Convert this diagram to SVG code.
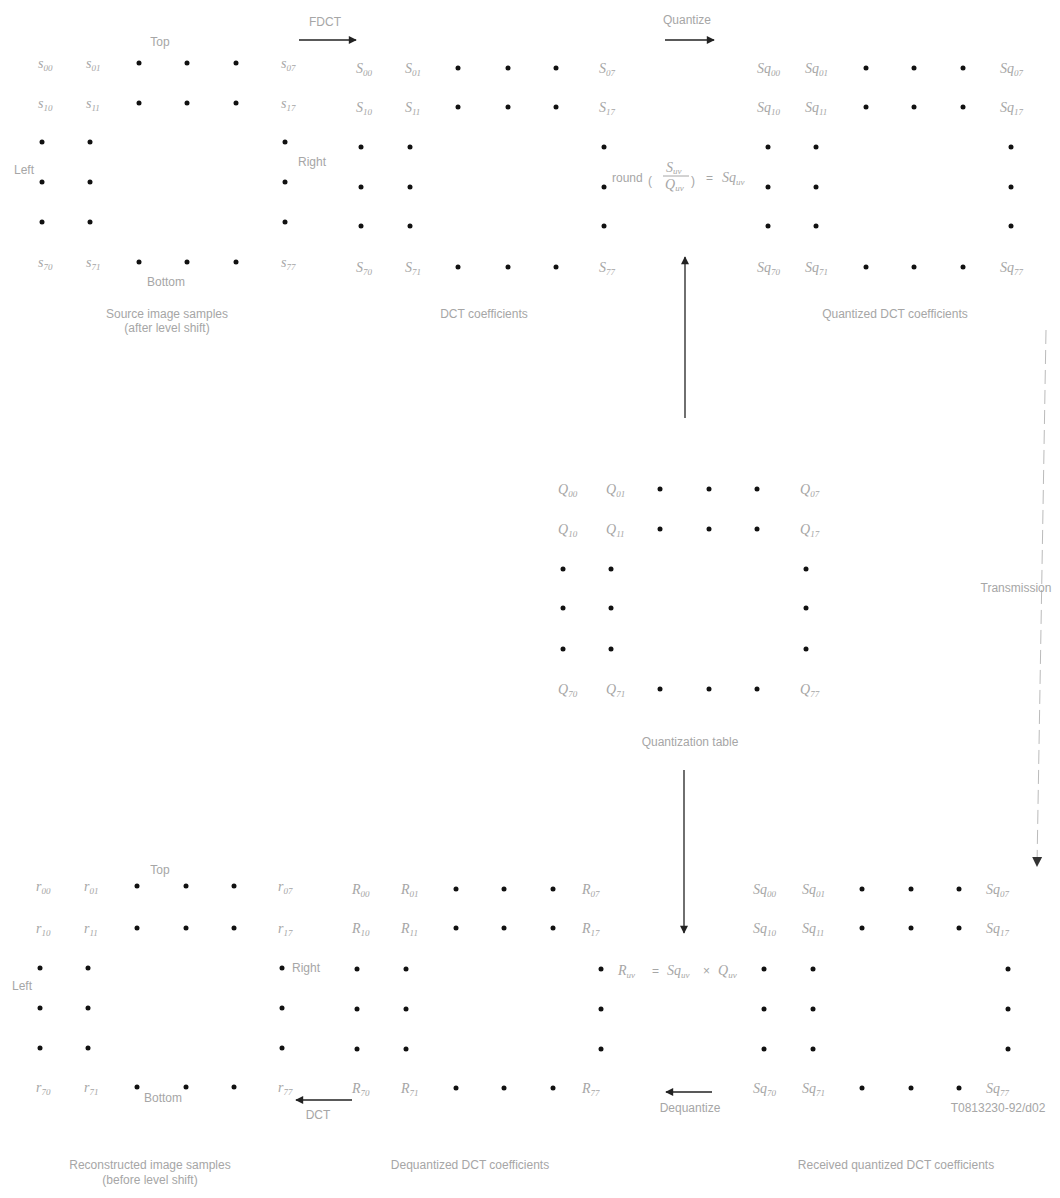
<svg xmlns="http://www.w3.org/2000/svg" width="1060" height="1198" viewBox="0 0 1060 1198">
<style>
.lbl{font-family:"Liberation Serif",serif;font-style:italic;font-size:14px;fill:#a6a6a6}
.sub{font-size:9px}
.txt{font-family:"Liberation Sans",Arial,sans-serif;font-size:12px;fill:#a6a6a6}
.d{fill:#111}
.ln{stroke:#222;stroke-width:1.3;fill:none}
.fn{stroke:#bbb;stroke-width:1;fill:none}
</style>
<defs>
<marker id="ah" viewBox="0 0 10 10" refX="9" refY="5" markerWidth="10" markerHeight="8" orient="auto" markerUnits="userSpaceOnUse"><path d="M0,0 L10,5 L0,10 z" fill="#222"/></marker>
<marker id="ahg" viewBox="0 0 10 10" refX="9" refY="5" markerWidth="10" markerHeight="12" orient="auto" markerUnits="userSpaceOnUse"><path d="M0,0 L10,5 L0,10 z" fill="#333"/></marker>
</defs>
<rect width="1060" height="1198" fill="#fff"/>

<g id="source-samples">
<text class="txt" x="160" y="46" text-anchor="middle">Top</text>
<text class="txt" x="24" y="174" text-anchor="middle">Left</text>
<text class="txt" x="312" y="166" text-anchor="middle">Right</text>
<text class="txt" x="166" y="286" text-anchor="middle">Bottom</text>
<text class="lbl" x="38" y="68">s<tspan class="sub" dy="3">00</tspan></text>
<text class="lbl" x="86" y="68">s<tspan class="sub" dy="3">01</tspan></text>
<text class="lbl" x="281" y="68">s<tspan class="sub" dy="3">07</tspan></text>
<text class="lbl" x="38" y="108">s<tspan class="sub" dy="3">10</tspan></text>
<text class="lbl" x="86" y="108">s<tspan class="sub" dy="3">11</tspan></text>
<text class="lbl" x="281" y="108">s<tspan class="sub" dy="3">17</tspan></text>
<text class="lbl" x="38" y="267">s<tspan class="sub" dy="3">70</tspan></text>
<text class="lbl" x="86" y="267">s<tspan class="sub" dy="3">71</tspan></text>
<text class="lbl" x="281" y="267">s<tspan class="sub" dy="3">77</tspan></text>
<circle class="d" cx="139" cy="63" r="2.5"/><circle class="d" cx="187" cy="63" r="2.5"/><circle class="d" cx="236" cy="63" r="2.5"/>
<circle class="d" cx="139" cy="103" r="2.5"/><circle class="d" cx="187" cy="103" r="2.5"/><circle class="d" cx="236" cy="103" r="2.5"/>
<circle class="d" cx="42" cy="142" r="2.5"/><circle class="d" cx="90" cy="142" r="2.5"/><circle class="d" cx="285" cy="142" r="2.5"/>
<circle class="d" cx="42" cy="182" r="2.5"/><circle class="d" cx="90" cy="182" r="2.5"/><circle class="d" cx="285" cy="182" r="2.5"/>
<circle class="d" cx="42" cy="222" r="2.5"/><circle class="d" cx="90" cy="222" r="2.5"/><circle class="d" cx="285" cy="222" r="2.5"/>
<circle class="d" cx="139" cy="262" r="2.5"/><circle class="d" cx="187" cy="262" r="2.5"/><circle class="d" cx="236" cy="262" r="2.5"/>
<text class="txt" x="167" y="318" text-anchor="middle">Source image samples</text>
<text class="txt" x="167" y="332" text-anchor="middle">(after level shift)</text>
</g>

<g id="dct-coefficients">
<text class="lbl" x="356" y="73">S<tspan class="sub" dy="3">00</tspan></text>
<text class="lbl" x="405" y="73">S<tspan class="sub" dy="3">01</tspan></text>
<text class="lbl" x="599" y="73">S<tspan class="sub" dy="3">07</tspan></text>
<text class="lbl" x="356" y="112">S<tspan class="sub" dy="3">10</tspan></text>
<text class="lbl" x="405" y="112">S<tspan class="sub" dy="3">11</tspan></text>
<text class="lbl" x="599" y="112">S<tspan class="sub" dy="3">17</tspan></text>
<text class="lbl" x="356" y="272">S<tspan class="sub" dy="3">70</tspan></text>
<text class="lbl" x="405" y="272">S<tspan class="sub" dy="3">71</tspan></text>
<text class="lbl" x="599" y="272">S<tspan class="sub" dy="3">77</tspan></text>
<circle class="d" cx="458" cy="68" r="2.5"/><circle class="d" cx="508" cy="68" r="2.5"/><circle class="d" cx="556" cy="68" r="2.5"/>
<circle class="d" cx="458" cy="107" r="2.5"/><circle class="d" cx="508" cy="107" r="2.5"/><circle class="d" cx="556" cy="107" r="2.5"/>
<circle class="d" cx="361" cy="147" r="2.5"/><circle class="d" cx="410" cy="147" r="2.5"/><circle class="d" cx="604" cy="147" r="2.5"/>
<circle class="d" cx="361" cy="187" r="2.5"/><circle class="d" cx="410" cy="187" r="2.5"/><circle class="d" cx="604" cy="187" r="2.5"/>
<circle class="d" cx="361" cy="226" r="2.5"/><circle class="d" cx="410" cy="226" r="2.5"/><circle class="d" cx="604" cy="226" r="2.5"/>
<circle class="d" cx="458" cy="267" r="2.5"/><circle class="d" cx="508" cy="267" r="2.5"/><circle class="d" cx="556" cy="267" r="2.5"/>
<text class="txt" x="484" y="318" text-anchor="middle">DCT coefficients</text>
</g>

<g id="quantized-coefficients">
<text class="lbl" x="757" y="73">Sq<tspan class="sub" dy="3">00</tspan></text>
<text class="lbl" x="805" y="73">Sq<tspan class="sub" dy="3">01</tspan></text>
<text class="lbl" x="1000" y="73">Sq<tspan class="sub" dy="3">07</tspan></text>
<text class="lbl" x="757" y="112">Sq<tspan class="sub" dy="3">10</tspan></text>
<text class="lbl" x="805" y="112">Sq<tspan class="sub" dy="3">11</tspan></text>
<text class="lbl" x="1000" y="112">Sq<tspan class="sub" dy="3">17</tspan></text>
<text class="lbl" x="757" y="272">Sq<tspan class="sub" dy="3">70</tspan></text>
<text class="lbl" x="805" y="272">Sq<tspan class="sub" dy="3">71</tspan></text>
<text class="lbl" x="1000" y="272">Sq<tspan class="sub" dy="3">77</tspan></text>
<circle class="d" cx="866" cy="68" r="2.5"/><circle class="d" cx="914" cy="68" r="2.5"/><circle class="d" cx="963" cy="68" r="2.5"/>
<circle class="d" cx="866" cy="107" r="2.5"/><circle class="d" cx="914" cy="107" r="2.5"/><circle class="d" cx="963" cy="107" r="2.5"/>
<circle class="d" cx="768" cy="147" r="2.5"/><circle class="d" cx="816" cy="147" r="2.5"/><circle class="d" cx="1011" cy="147" r="2.5"/>
<circle class="d" cx="768" cy="187" r="2.5"/><circle class="d" cx="816" cy="187" r="2.5"/><circle class="d" cx="1011" cy="187" r="2.5"/>
<circle class="d" cx="768" cy="226" r="2.5"/><circle class="d" cx="816" cy="226" r="2.5"/><circle class="d" cx="1011" cy="226" r="2.5"/>
<circle class="d" cx="866" cy="267" r="2.5"/><circle class="d" cx="914" cy="267" r="2.5"/><circle class="d" cx="963" cy="267" r="2.5"/>
<text class="txt" x="895" y="318" text-anchor="middle">Quantized DCT coefficients</text>
</g>

<g id="quantize-formula">
<text class="txt" x="612" y="182">round</text>
<text class="txt" x="648" y="185" font-size="22">(</text>
<text class="lbl" x="666" y="172" font-size="12">S<tspan class="sub" dy="2" font-size="8">uv</tspan></text>
<line x1="663" y1="176" x2="689" y2="176" stroke="#a6a6a6" stroke-width="1"/>
<text class="lbl" x="665" y="189" font-size="12">Q<tspan class="sub" dy="2" font-size="8">uv</tspan></text>
<text class="txt" x="691" y="185" font-size="22">)</text>
<text class="txt" x="706" y="182" font-size="14">=</text>
<text class="lbl" x="722" y="182" font-size="15">Sq<tspan class="sub" dy="3" font-size="10">uv</tspan></text>
</g>

<g id="quantization-table">
<text class="lbl" x="558" y="494">Q<tspan class="sub" dy="3">00</tspan></text>
<text class="lbl" x="606" y="494">Q<tspan class="sub" dy="3">01</tspan></text>
<text class="lbl" x="800" y="494">Q<tspan class="sub" dy="3">07</tspan></text>
<text class="lbl" x="558" y="534">Q<tspan class="sub" dy="3">10</tspan></text>
<text class="lbl" x="606" y="534">Q<tspan class="sub" dy="3">11</tspan></text>
<text class="lbl" x="800" y="534">Q<tspan class="sub" dy="3">17</tspan></text>
<text class="lbl" x="558" y="694">Q<tspan class="sub" dy="3">70</tspan></text>
<text class="lbl" x="606" y="694">Q<tspan class="sub" dy="3">71</tspan></text>
<text class="lbl" x="800" y="694">Q<tspan class="sub" dy="3">77</tspan></text>
<circle class="d" cx="660" cy="489" r="2.5"/><circle class="d" cx="709" cy="489" r="2.5"/><circle class="d" cx="757" cy="489" r="2.5"/>
<circle class="d" cx="660" cy="529" r="2.5"/><circle class="d" cx="709" cy="529" r="2.5"/><circle class="d" cx="757" cy="529" r="2.5"/>
<circle class="d" cx="563" cy="569" r="2.5"/><circle class="d" cx="611" cy="569" r="2.5"/><circle class="d" cx="806" cy="569" r="2.5"/>
<circle class="d" cx="563" cy="608" r="2.5"/><circle class="d" cx="611" cy="608" r="2.5"/><circle class="d" cx="806" cy="608" r="2.5"/>
<circle class="d" cx="563" cy="649" r="2.5"/><circle class="d" cx="611" cy="649" r="2.5"/><circle class="d" cx="806" cy="649" r="2.5"/>
<circle class="d" cx="660" cy="689" r="2.5"/><circle class="d" cx="709" cy="689" r="2.5"/><circle class="d" cx="757" cy="689" r="2.5"/>
<text class="txt" x="690" y="746" text-anchor="middle">Quantization table</text>
</g>

<g id="reconstructed-samples">
<text class="txt" x="160" y="874" text-anchor="middle">Top</text>
<text class="txt" x="22" y="990" text-anchor="middle">Left</text>
<text class="txt" x="306" y="972" text-anchor="middle">Right</text>
<text class="txt" x="163" y="1102" text-anchor="middle">Bottom</text>
<text class="lbl" x="36" y="891">r<tspan class="sub" dy="3">00</tspan></text>
<text class="lbl" x="84" y="891">r<tspan class="sub" dy="3">01</tspan></text>
<text class="lbl" x="278" y="891">r<tspan class="sub" dy="3">07</tspan></text>
<text class="lbl" x="36" y="933">r<tspan class="sub" dy="3">10</tspan></text>
<text class="lbl" x="84" y="933">r<tspan class="sub" dy="3">11</tspan></text>
<text class="lbl" x="278" y="933">r<tspan class="sub" dy="3">17</tspan></text>
<text class="lbl" x="36" y="1092">r<tspan class="sub" dy="3">70</tspan></text>
<text class="lbl" x="84" y="1092">r<tspan class="sub" dy="3">71</tspan></text>
<text class="lbl" x="278" y="1092">r<tspan class="sub" dy="3">77</tspan></text>
<circle class="d" cx="137" cy="886" r="2.5"/><circle class="d" cx="186" cy="886" r="2.5"/><circle class="d" cx="234" cy="886" r="2.5"/>
<circle class="d" cx="137" cy="928" r="2.5"/><circle class="d" cx="186" cy="928" r="2.5"/><circle class="d" cx="234" cy="928" r="2.5"/>
<circle class="d" cx="40" cy="968" r="2.5"/><circle class="d" cx="88" cy="968" r="2.5"/><circle class="d" cx="282" cy="968" r="2.5"/>
<circle class="d" cx="40" cy="1008" r="2.5"/><circle class="d" cx="88" cy="1008" r="2.5"/><circle class="d" cx="282" cy="1008" r="2.5"/>
<circle class="d" cx="40" cy="1048" r="2.5"/><circle class="d" cx="88" cy="1048" r="2.5"/><circle class="d" cx="282" cy="1048" r="2.5"/>
<circle class="d" cx="137" cy="1087" r="2.5"/><circle class="d" cx="186" cy="1087" r="2.5"/><circle class="d" cx="234" cy="1087" r="2.5"/>
<text class="txt" x="150" y="1169" text-anchor="middle">Reconstructed image samples</text>
<text class="txt" x="150" y="1184" text-anchor="middle">(before level shift)</text>
</g>

<g id="dequantized-coefficients">
<text class="lbl" x="352" y="894">R<tspan class="sub" dy="3">00</tspan></text>
<text class="lbl" x="401" y="894">R<tspan class="sub" dy="3">01</tspan></text>
<text class="lbl" x="582" y="894">R<tspan class="sub" dy="3">07</tspan></text>
<text class="lbl" x="352" y="933">R<tspan class="sub" dy="3">10</tspan></text>
<text class="lbl" x="401" y="933">R<tspan class="sub" dy="3">11</tspan></text>
<text class="lbl" x="582" y="933">R<tspan class="sub" dy="3">17</tspan></text>
<text class="lbl" x="352" y="1093">R<tspan class="sub" dy="3">70</tspan></text>
<text class="lbl" x="401" y="1093">R<tspan class="sub" dy="3">71</tspan></text>
<text class="lbl" x="582" y="1093">R<tspan class="sub" dy="3">77</tspan></text>
<circle class="d" cx="456" cy="889" r="2.5"/><circle class="d" cx="504" cy="889" r="2.5"/><circle class="d" cx="553" cy="889" r="2.5"/>
<circle class="d" cx="456" cy="928" r="2.5"/><circle class="d" cx="504" cy="928" r="2.5"/><circle class="d" cx="553" cy="928" r="2.5"/>
<circle class="d" cx="357" cy="969" r="2.5"/><circle class="d" cx="406" cy="969" r="2.5"/><circle class="d" cx="601" cy="969" r="2.5"/>
<circle class="d" cx="357" cy="1009" r="2.5"/><circle class="d" cx="406" cy="1009" r="2.5"/><circle class="d" cx="601" cy="1009" r="2.5"/>
<circle class="d" cx="357" cy="1049" r="2.5"/><circle class="d" cx="406" cy="1049" r="2.5"/><circle class="d" cx="601" cy="1049" r="2.5"/>
<circle class="d" cx="456" cy="1088" r="2.5"/><circle class="d" cx="504" cy="1088" r="2.5"/><circle class="d" cx="553" cy="1088" r="2.5"/>
<text class="txt" x="470" y="1169" text-anchor="middle">Dequantized DCT coefficients</text>
</g>

<g id="received-coefficients">
<text class="lbl" x="753" y="894">Sq<tspan class="sub" dy="3">00</tspan></text>
<text class="lbl" x="802" y="894">Sq<tspan class="sub" dy="3">01</tspan></text>
<text class="lbl" x="986" y="894">Sq<tspan class="sub" dy="3">07</tspan></text>
<text class="lbl" x="753" y="933">Sq<tspan class="sub" dy="3">10</tspan></text>
<text class="lbl" x="802" y="933">Sq<tspan class="sub" dy="3">11</tspan></text>
<text class="lbl" x="986" y="933">Sq<tspan class="sub" dy="3">17</tspan></text>
<text class="lbl" x="753" y="1093">Sq<tspan class="sub" dy="3">70</tspan></text>
<text class="lbl" x="802" y="1093">Sq<tspan class="sub" dy="3">71</tspan></text>
<text class="lbl" x="986" y="1093">Sq<tspan class="sub" dy="3">77</tspan></text>
<circle class="d" cx="862" cy="889" r="2.5"/><circle class="d" cx="911" cy="889" r="2.5"/><circle class="d" cx="959" cy="889" r="2.5"/>
<circle class="d" cx="862" cy="928" r="2.5"/><circle class="d" cx="911" cy="928" r="2.5"/><circle class="d" cx="959" cy="928" r="2.5"/>
<circle class="d" cx="764" cy="969" r="2.5"/><circle class="d" cx="813" cy="969" r="2.5"/><circle class="d" cx="1008" cy="969" r="2.5"/>
<circle class="d" cx="764" cy="1009" r="2.5"/><circle class="d" cx="813" cy="1009" r="2.5"/><circle class="d" cx="1008" cy="1009" r="2.5"/>
<circle class="d" cx="764" cy="1049" r="2.5"/><circle class="d" cx="813" cy="1049" r="2.5"/><circle class="d" cx="1008" cy="1049" r="2.5"/>
<circle class="d" cx="862" cy="1088" r="2.5"/><circle class="d" cx="911" cy="1088" r="2.5"/><circle class="d" cx="959" cy="1088" r="2.5"/>
<text class="txt" x="896" y="1169" text-anchor="middle">Received quantized DCT coefficients</text>
<text class="txt" x="998" y="1112" text-anchor="middle" font-size="7">T0813230-92/d02</text>
</g>

<g id="dequantize-formula">
<text class="lbl" x="618" y="975">R<tspan class="sub" dy="3">uv</tspan></text>
<text class="txt" x="652" y="975">=</text>
<text class="lbl" x="667" y="975">Sq<tspan class="sub" dy="3">uv</tspan></text>
<text class="txt" x="703" y="975">×</text>
<text class="lbl" x="718" y="975">Q<tspan class="sub" dy="3">uv</tspan></text>
</g>

<g id="connectors">
<line class="ln" x1="299" y1="40" x2="356" y2="40" marker-end="url(#ah)"/>
<text class="txt" x="325" y="26" text-anchor="middle">FDCT</text>
<line class="ln" x1="665" y1="40" x2="714" y2="40" marker-end="url(#ah)"/>
<text class="txt" x="687" y="24" text-anchor="middle">Quantize</text>
<line class="ln" x1="685" y1="418" x2="685" y2="257" marker-end="url(#ah)"/>
<line class="ln" x1="684" y1="770" x2="684" y2="933" marker-end="url(#ah)"/>
<line class="fn" x1="1046" y1="330" x2="1037" y2="866" stroke-dasharray="14 6" marker-end="url(#ahg)"/>
<text class="txt" x="1016" y="592" text-anchor="middle">Transmission</text>
<line class="ln" x1="712" y1="1092" x2="666" y2="1092" marker-end="url(#ah)"/>
<text class="txt" x="690" y="1112" text-anchor="middle">Dequantize</text>
<line class="ln" x1="352" y1="1100" x2="296" y2="1100" marker-end="url(#ah)"/>
<text class="txt" x="318" y="1119" text-anchor="middle">DCT</text>
</g>
</svg>
